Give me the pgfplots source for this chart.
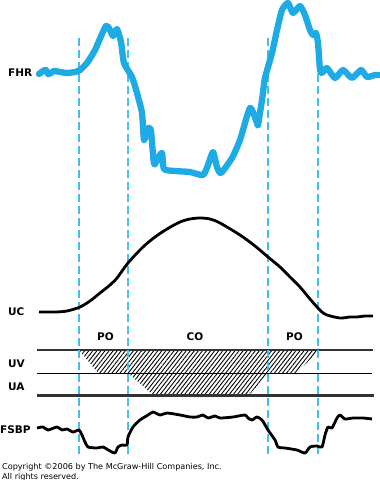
\documentclass[border=0pt]{standalone}
\usepackage{pgfplots}
\pgfplotsset{compat=1.18}
\usepackage{fontspec}
\setmainfont{DejaVu Sans}
\usetikzlibrary{patterns.meta}
\definecolor{fhrblue}{RGB}{30,170,228}
\definecolor{dashblue}{RGB}{70,190,240}
\begin{document}
\begin{tikzpicture}
\begin{axis}[scale only axis, width=380pt, height=480pt,
  xmin=0, xmax=380, ymin=0, ymax=480, y dir=reverse,
  axis lines=none, clip=false]
% hatched regions
\addplot[draw=none, pattern={Lines[angle=52, distance=3.2pt, line width=0.9pt]}, pattern color=black]
  coordinates {(80,351) (318,351) (297,373) (98,373)} --cycle;
\addplot[draw=none, pattern={Lines[angle=52, distance=3.2pt, line width=0.9pt]}, pattern color=black]
  coordinates {(128,373) (268,373) (250,394) (152,394)} --cycle;
% horizontal lines
\addplot[line width=2.8pt, color=black!80] coordinates {(37,350) (373,350)};
\addplot[line width=1pt, color=black] coordinates {(37,373) (372,373)};
\addplot[line width=3pt, color=black!80] coordinates {(37,395) (374,395)};
% dashed lines
\addplot[color=dashblue, line width=1.4pt, dash pattern=on 8pt off 4pt] coordinates {(79,38) (79,455)};
\addplot[color=dashblue, line width=1.4pt, dash pattern=on 8pt off 4pt] coordinates {(128,38) (128,455)};
\addplot[color=dashblue, line width=1.4pt, dash pattern=on 8pt off 4pt] coordinates {(268,38) (268,455)};
\addplot[color=dashblue, line width=1.4pt, dash pattern=on 8pt off 4pt] coordinates {(318,38) (318,455)};
% FHR
\addplot[color=fhrblue, line width=6.3pt, line join=round, line cap=round, smooth, tension=0.35] coordinates {
(39,74) (43,71) (46,70) (48,74) (51,73) (54,71) (60,72) (67,73) (75,72) (80,70) (87,63) (95,50) (102,34) (106,26) (109,28) (113,36) (117,29) (121,42) (124,63) (132,77) (137,93) (142,113) (144,140) (148,128) (151,131) (154,164) (158,158) (162,153) (164,169) (175,171) (190,172) (203,175) (208,165) (213,152) (217,167) (221,173) (232,158) (240,140) (250,108) (257,123) (258,125) (262,100) (265,78) (272,53) (277,30) (282,10) (288,3) (293,13) (300,6) (305,15) (310,30) (313,35) (316,33) (318,43) (320,70) (322,73) (327,68) (335,78) (343,70) (352,78) (361,70) (367,77) (375,75) (379,75)};
% UC
\addplot[black, line width=2.8pt, smooth, tension=0.5] coordinates {
(39,312) (55,312) (67,311) (80,307) (90,301) (100,293) (110,285) (117,278) (128,263) (143,247) (155,237) (167,229) (180,222) (190,219) (200,218) (210,219) (220,223) (240,235) (255,246) (268,257) (280,267) (290,277) (300,287) (310,299) (317,307) (322,312) (327,315) (340,318) (350,317) (357,317) (365,316) (373,316)};
% FSBP
\addplot[black, line width=2.8pt, smooth, tension=0.4, line join=round] coordinates {
(37,428) (43,427) (48,430) (57,427) (62,430) (67,429) (73,432) (79,430) (82,435) (85,442) (88,447) (97,448) (103,447) (110,451) (115,453) (118,447) (122,445) (127,445) (128,437) (133,427) (140,420) (148,415) (153,412) (160,415) (167,413) (180,415) (190,417) (197,417) (203,415) (208,418) (215,416) (220,418) (233,417) (245,415) (248,418) (252,420) (257,417) (262,420) (268,430) (275,440) (278,447) (285,448) (297,450) (305,453) (310,447) (317,446) (322,447) (325,435) (328,427) (332,428) (337,418) (340,415) (345,419) (353,418) (363,418) (372,419)};
% labels
\path[font=\bfseries\fontsize{10.5}{12}\selectfont]
  (axis cs:8,73) node[anchor=west, inner sep=0pt] {FHR}
  (axis cs:8,312) node[anchor=west, inner sep=0pt] {UC}
  (axis cs:8,364) node[anchor=west, inner sep=0pt] {UV}
  (axis cs:8,387) node[anchor=west, inner sep=0pt] {UA}
  (axis cs:0,430) node[anchor=west, inner sep=0pt] {FSBP}
  (axis cs:105.5,337) node {PO}
  (axis cs:195,337) node {CO}
  (axis cs:294.5,337) node {PO};
\path[font=\fontsize{8.1}{9}\selectfont]
  (axis cs:2,469.5) node[anchor=base west, inner sep=0pt] {Copyright ©2006 by The McGraw-Hill Companies, Inc.}
  (axis cs:2,479) node[anchor=base west, inner sep=0pt] {All rights reserved.};
\end{axis}
\pgfresetboundingbox
\path (0,0) rectangle (380pt,480pt);
\end{tikzpicture}
\end{document}
